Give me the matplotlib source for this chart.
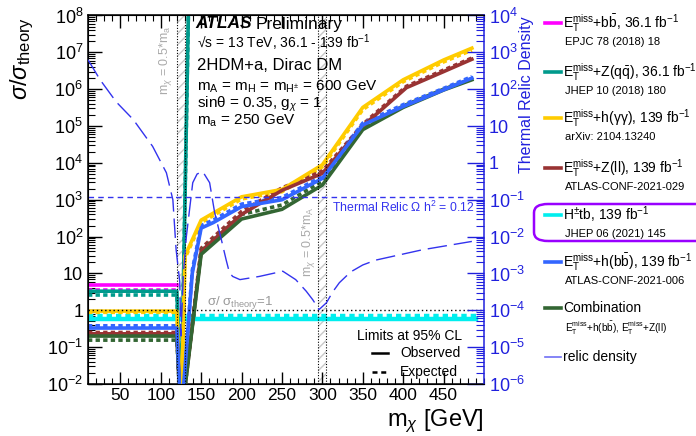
import numpy as np
import matplotlib
matplotlib.use('Agg')
import matplotlib.pyplot as plt
from matplotlib.lines import Line2D
from matplotlib.patches import FancyBboxPatch
from matplotlib.ticker import LogLocator, NullFormatter, FuncFormatter, MultipleLocator

plt.rcParams['font.family'] = ['Liberation Sans', 'DejaVu Sans']
plt.rcParams['mathtext.fontset'] = 'custom'
plt.rcParams['mathtext.rm'] = 'Liberation Sans'
plt.rcParams['mathtext.it'] = 'Liberation Sans:italic'
plt.rcParams['mathtext.bf'] = 'Liberation Sans:bold'

# ---- data (m_chi in GeV, sigma/sigma_theory) ----
mx_bb = [10, 120]
bb_obs = [4.8, 4.8]
bb_exp = [3.6, 3.6]

mx_zqq = [10, 120, 125, 135]
zqq_obs = [3.3, 3.3, 1e-3, 1e9]
zqq_exp = [2.6, 2.6, 1e-3, 1e9]

mx_hyy = [10, 120, 125, 130, 150, 200, 250, 300, 350, 400, 450, 485]
hyy_obs = [0.95, 0.95, 1e-3, 30, 280, 1200, 1900, 8900, 3.2e5, 1.8e6, 6.2e6, 1.3e7]
hyy_exp = [0.88, 0.88, 1e-3, 26, 240, 1050, 1650, 7800, 2.8e5, 1.6e6, 5.5e6, 1.15e7]

mx_zll = [10, 120, 125, 150, 200, 250, 300, 350, 362, 404, 450, 485]
zll_obs = [0.23, 0.23, 1e-3, 40, 400, 1800, 5200, 1.0e5, 1.7e5, 1.1e6, 3.0e6, 6.5e6]
zll_exp = [0.25, 0.25, 1e-3, 48, 480, 2100, 6000, 1.1e5, 1.9e5, 1.2e6, 3.3e6, 7.0e6]

mx_htb = [10, 490]
htb_obs = [0.59, 0.59]
htb_exp = [0.72, 0.72]

mx_hbb = [10, 120, 125, 139, 150, 165, 200, 250, 300, 350, 400, 450, 485]
hbb_obs = [0.33, 0.33, 1e-3, 10, 170, 240, 650, 1000, 3800, 1.07e5, 3.4e5, 9.6e5, 2.0e6]
hbb_exp = [0.38, 0.38, 1e-3, 12, 200, 280, 760, 1150, 4300, 1.2e5, 3.8e5, 1.05e6, 2.2e6]

mx_comb = [10, 120, 125, 150, 200, 250, 300, 350, 400, 450, 485]
comb_obs = [0.20, 0.20, 1e-3, 33, 300, 550, 2500, 8.0e4, 3.2e5, 9.5e5, 1.8e6]
comb_exp = [0.155, 0.155, 1e-3, 42, 400, 720, 3200, 9.0e4, 3.5e5, 1.0e6, 1.9e6]

# relic density (right axis)
mx_relic = [10, 25, 45, 66, 90, 107, 115, 119, 123.5, 125, 128, 131.7, 139.6, 145, 152,
            160.5, 166.7, 175, 181, 185, 189, 198, 222, 251, 267, 280, 288, 296, 305,
            313, 321, 335, 350, 366, 424, 485]
relic = [630, 180, 45, 15, 2.8, 0.54, 0.1, 4.5e-3, 6e-4, 2e-5, 1e-3, 1e-2, 0.29, 0.5, 0.58,
         0.29, 0.045, 8.3e-3, 2.3e-3, 1.05e-3, 8.3e-4, 6.8e-4, 8.3e-4, 1.15e-3, 6.8e-4,
         3.3e-4, 1.95e-4, 1.05e-4, 1.6e-4, 3.2e-4, 5.6e-4, 1.1e-3, 1.7e-3, 2.3e-3, 4.4e-3, 7.4e-3]

relic_omega = 0.12
res_lines = [120, 130, 295, 305]

c_mag = '#ff00ff'
c_teal = '#009a8c'
c_yel = '#ffcc00'
c_brn = '#993333'
c_cyan = '#00eeee'
c_blue = '#3366ff'
c_grn = '#336633'
c_relic = '#3333ee'
c_axis2 = '#2020dd'

fig = plt.figure(figsize=(6.96, 4.36), dpi=100)
ax = fig.add_axes([88/696, 1-384/436, 396/696, 368.5/436])
ax2 = ax.twinx()

ax.set_xlim(10, 500)
ax.set_yscale('log')
ax.set_ylim(1e-2, 1e8)
ax2.set_yscale('log')
ax2.set_ylim(1e-6, 1e4)

# resonance regions
for lo, hi in [(res_lines[0], res_lines[1]), (res_lines[2], res_lines[3])]:
    ax.axvspan(lo, hi, facecolor='none', edgecolor='#c8c8c8', hatch='///', lw=0, zorder=1)
for xv in res_lines:
    ax.axvline(xv, color='k', lw=0.8, ls=(0, (1, 1.5)), zorder=6)

ax.axhline(1, color='k', lw=1.0, ls=(0, (1, 2)), zorder=6)
ax2.axhline(relic_omega, color=c_relic, lw=1.0, ls=(0, (4, 3)))

lw = 2.6
dash = (0, (1.2, 0.9))
series = [
    (mx_htb, htb_obs, htb_exp, c_cyan, 3.2),
    (mx_bb, bb_obs, bb_exp, c_mag, lw),
    (mx_zqq, zqq_obs, zqq_exp, c_teal, lw),
    (mx_hyy, hyy_obs, hyy_exp, c_yel, lw),
    (mx_zll, zll_obs, zll_exp, c_brn, lw),
    (mx_comb, comb_obs, comb_exp, c_grn, lw),
    (mx_hbb, hbb_obs, hbb_exp, c_blue, lw),
]
for mx, obs, exp, col, w in series:
    ax.plot(mx, exp, color=col, lw=w, ls=dash, zorder=3)
    ax.plot(mx, obs, color=col, lw=w, zorder=4)

ax2.plot(mx_relic, relic, color=c_relic, lw=1.0, ls=(0, (14, 5)), zorder=5)

# ticks and labels
def fmt(v, pos):
    e = int(round(np.log10(v)))
    if e == 0:
        return '1'
    if e == 1:
        return '10'
    return r'$10^{%d}$' % e

for a in (ax, ax2):
    a.yaxis.set_major_locator(LogLocator(base=10, numticks=20))
    a.yaxis.set_minor_locator(LogLocator(base=10, subs=np.arange(2, 10), numticks=20))
    a.yaxis.set_minor_formatter(NullFormatter())
    a.yaxis.set_major_formatter(FuncFormatter(fmt))

ax.xaxis.set_minor_locator(MultipleLocator(10))
ax.set_xticks([50, 100, 150, 200, 250, 300, 350, 400, 450])
ax.tick_params(axis='x', which='both', direction='in', top=True, labelsize=12.5, pad=3)
ax.tick_params(axis='x', which='major', length=9, width=1)
ax.tick_params(axis='x', which='minor', length=4.5, width=0.8)
ax.tick_params(axis='y', which='both', direction='in', right=False, labelsize=13)
ax.tick_params(axis='y', which='major', length=10, width=1)
ax.tick_params(axis='y', which='minor', length=5, width=0.8)
ax2.tick_params(axis='y', which='both', direction='in', colors=c_axis2, labelsize=13)
ax2.tick_params(axis='y', which='major', length=12, width=1)
ax2.tick_params(axis='y', which='minor', length=6, width=0.8)
ax.spines['right'].set_visible(False)
ax2.spines['right'].set_color(c_axis2)
for s in ax.spines.values():
    s.set_linewidth(1.1)
ax2.spines['right'].set_linewidth(1.1)

fig.text(0.013, 1-17/436, r'$\sigma/\sigma_{\mathrm{theory}}$', rotation=90, fontsize=17,
         ha='left', va='top')
fig.text(484/696, 1-421/436, r'm$_{\chi}$ [GeV]', fontsize=17, ha='right', va='center')
fig.text(526/696, 1-16/436, 'Thermal Relic Density', rotation=90, fontsize=11.5,
         color=c_axis2, ha='center', va='top')

# annotations
def axt(px, py, s, **kw):
    ax.text((px-88)/396, 1-(py-15.5)/368.5, s, transform=ax.transAxes, **kw)

axt(195, 24, 'ATLAS', fontsize=12.5, fontweight='bold', style='italic', va='center')
axt(256, 24, 'Preliminary', fontsize=12.5, va='center')
axt(197, 43, r'√s = 13 TeV, 36.1 - 139 fb$^{-1}$', fontsize=10, va='center')
axt(197, 65, '2HDM+a, Dirac DM', fontsize=12, va='center')
axt(197, 87, r'm$_{\mathrm{A}}$ = m$_{\mathrm{H}}$ = m$_{\mathrm{H^{\pm}}}$ = 600 GeV',
    fontsize=11, va='center')
axt(197, 104, r'sinθ = 0.35, g$_{\chi}$ = 1', fontsize=11, va='center')
axt(197, 121, r'm$_{\mathrm{a}}$ = 250 GeV', fontsize=11, va='center')
axt(332, 207, r'Thermal Relic Ω h$^{2}$ = 0.12', fontsize=8.8, color=c_relic, va='center')
axt(207, 302, r'σ/ σ$_{\mathrm{theory}}$=1', fontsize=9.5, color='#999999', va='center')
axt(165, 60, r'm$_{\chi}$ = 0.5*m$_{\mathrm{a}}$', fontsize=9, color='#aaaaaa',
    rotation=90, ha='center', va='center')
axt(308, 242, r'm$_{\chi}$ = 0.5*m$_{\mathrm{A}}$', fontsize=9, color='#aaaaaa',
    rotation=90, ha='center', va='center')
axt(357, 336, 'Limits at 95% CL', fontsize=10, va='center')
axt(400, 353, 'Observed', fontsize=10, va='center')
axt(400, 372, 'Expected', fontsize=10, va='center')
ax.add_line(Line2D([(372-88)/396, (388-88)/396], [1-(353-15.5)/368.5]*2,
                   transform=ax.transAxes, color='k', lw=1.8))
ax.add_line(Line2D([(372-88)/396, (388-88)/396], [1-(372-15.5)/368.5]*2,
                   transform=ax.transAxes, color='k', lw=1.8, ls=(0, (2, 1.5))))

# legend
ET = r'E$_{\mathrm{T}}^{\mathrm{miss}}$'
legend = [
    (c_mag, 23, ET + r'+b$\bar{\mathrm{b}}$, 36.1 fb$^{-1}$', 'EPJC 78 (2018) 18', 2.6),
    (c_teal, 72, ET + r'+Z(q$\bar{\mathrm{q}}$), 36.1 fb$^{-1}$', 'JHEP 10 (2018) 180', 2.6),
    (c_yel, 118, ET + r'+h(γγ), 139 fb$^{-1}$', 'arXiv: 2104.13240', 2.6),
    (c_brn, 168, ET + r'+Z(ll), 139 fb$^{-1}$', 'ATLAS-CONF-2021-029', 2.6),
    (c_cyan, 215, r'H$^{\pm}$tb, 139 fb$^{-1}$', 'JHEP 06 (2021) 145', 2.6),
    (c_blue, 262, ET + r'+h(b$\bar{\mathrm{b}}$), 139 fb$^{-1}$', 'ATLAS-CONF-2021-006', 2.6),
    (c_grn, 308, 'Combination', ET + r'+h(b$\bar{\mathrm{b}}$), ' + ET + '+Z(ll)', 2.6),
    ('#6f6ff5', 357, 'relic density', None, 1.2),
]
for col, py, main, sub, w in legend:
    y = 1 - py/436
    fig.add_artist(Line2D([545/696, 561/696], [y, y], color=col, lw=w))
    fig.text(563/696, y, main, fontsize=10, va='center')
    if sub is not None:
        fs = 7.2 if col == c_grn else 8
        fig.text(565/696, 1 - (py+19)/436, sub, fontsize=fs, va='center')

fig.add_artist(FancyBboxPatch((534/696, 1-241/436), 200/696, 37/436,
                              boxstyle='round,pad=0,rounding_size=0.02',
                              transform=fig.transFigure, facecolor='none',
                              edgecolor='#9900ff', lw=1.8))

fig.savefig('out.png', dpi=100)
